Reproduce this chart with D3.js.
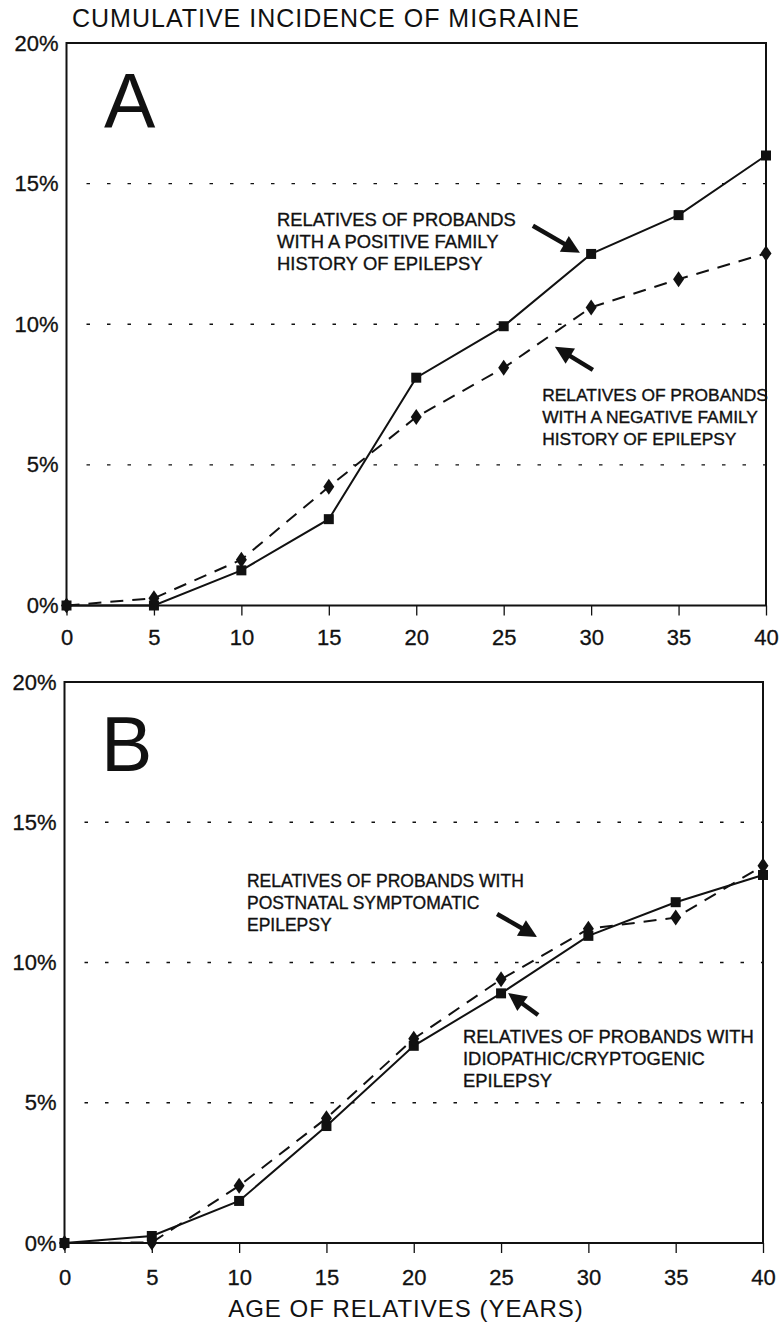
<!DOCTYPE html>
<html>
<head>
<meta charset="utf-8">
<script src="https://cdn.jsdelivr.net/npm/d3@7"></script>
<style>
  html, body { margin: 0; padding: 0; background: #fff; }
  svg { display: block; }
  text { font-family: "Liberation Sans", Arial, Helvetica, sans-serif; fill: #111; }
</style>
</head>
<body>
<svg id="chart" width="783" height="1328"></svg>
<script>
// ---------------- DATA ----------------
const ages = [0, 5, 10, 15, 20, 25, 30, 35, 40];
const xTickValues = [0, 5, 10, 15, 20, 25, 30, 35, 40];
const yTickValues = [0, 5, 10, 15, 20];
const yTickLabels = ["0%", "5%", "10%", "15%", "20%"];
const gridValues = [5, 10, 15];

// Panel A
const aPositive = [0, 0, 1.25, 3.07, 8.1, 9.93, 12.5, 13.88, 16.0];
const aNegative = [0, 0.26, 1.63, 4.22, 6.7, 8.45, 10.6, 11.6, 12.52];
// Panel B
const bIdiopathic = [0, 0.25, 1.5, 4.17, 7.03, 8.9, 10.95, 12.15, 13.12];
const bPostnatal = [0, 0.02, 2.04, 4.45, 7.28, 9.4, 11.2, 11.6, 13.45];

const titleText = "CUMULATIVE INCIDENCE OF MIGRAINE";
const xAxisTitle = "AGE OF RELATIVES (YEARS)";

const aPositiveLabel = ["RELATIVES OF PROBANDS", "WITH A POSITIVE FAMILY", "HISTORY OF EPILEPSY"];
const aNegativeLabel = ["RELATIVES OF PROBANDS", "WITH A NEGATIVE FAMILY", "HISTORY OF EPILEPSY"];
const bPostnatalLabel = ["RELATIVES OF PROBANDS WITH", "POSTNATAL SYMPTOMATIC", "EPILEPSY"];
const bIdiopathicLabel = ["RELATIVES OF PROBANDS WITH", "IDIOPATHIC/CRYPTOGENIC", "EPILEPSY"];

// ---------------- LAYOUT ----------------
const svg = d3.select("#chart");
const INK = "#111";

const panels = [
  {
    letter: "A",
    x0: 66.5, x1: 766, yTop: 43, yBottom: 605.5, tickPad: 14,
    solid: aPositive, dashed: aNegative,
    notes: [
      { lines: aPositiveLabel, at: [12.04, 13.67], size: 18.4 },
      { lines: aNegativeLabel, at: [27.2, 7.45], size: 17.4 }
    ],
    arrows: [
      { from: [26.67, 13.5], to: [29.36, 12.54] },
      { from: [30.1, 8.38], to: [27.93, 9.2] }
    ],
    letterPos: [104, 128]
  },
  {
    letter: "B",
    x0: 64.5, x1: 763, yTop: 682, yBottom: 1243, tickPad: 16,
    solid: bIdiopathic, dashed: bPostnatal,
    notes: [
      { lines: bPostnatalLabel, at: [10.45, 12.87], size: 17.5 },
      { lines: bIdiopathicLabel, at: [22.82, 7.31], size: 18.4 }
    ],
    arrows: [
      { from: [24.77, 11.73], to: [27.06, 10.91] },
      { from: [27.12, 8.13], to: [25.4, 8.91] }
    ],
    letterPos: [101, 771]
  }
];

// Title
svg.append("text")
  .attr("x", 72).attr("y", 27)
  .attr("font-size", 25)
  .attr("letter-spacing", 1)
  .text(titleText);

panels.forEach(p => {
  const x = d3.scaleLinear().domain([0, 40]).range([p.x0, p.x1]);
  const y = d3.scaleLinear().domain([0, 20]).range([p.yBottom, p.yTop]);
  const g = svg.append("g");

  // gridlines
  g.selectAll("line.grid").data(gridValues).join("line")
    .attr("class", "grid")
    .attr("x1", x(0) + 20).attr("x2", x(40))
    .attr("y1", d => y(d)).attr("y2", d => y(d))
    .attr("stroke", INK).attr("stroke-width", 1.4)
    .attr("stroke-dasharray", "3.5,17");

  // frame
  g.append("rect")
    .attr("x", x(0)).attr("y", y(20))
    .attr("width", x(40) - x(0)).attr("height", y(0) - y(20))
    .attr("fill", "none").attr("stroke", INK).attr("stroke-width", 2);

  // x axis ticks & labels
  const xAxis = d3.axisBottom(x).tickValues(xTickValues).tickSize(10).tickPadding(p.tickPad).tickFormat(d3.format("d"));
  const xa = g.append("g").attr("transform", `translate(0,${y(0)})`).call(xAxis);
  xa.select(".domain").remove();
  xa.selectAll(".tick line").attr("stroke", INK).attr("stroke-width", 1.3);
  xa.selectAll(".tick text")
    .attr("font-size", 22).attr("fill", INK)
    .attr("stroke", INK).attr("stroke-width", 0.3)
    .attr("font-family", "Liberation Sans, Arial, sans-serif");

  // y axis labels
  const yAxis = d3.axisLeft(y).tickValues(yTickValues).tickSize(0).tickPadding(8)
    .tickFormat((d, i) => yTickLabels[i]);
  const ya = g.append("g").attr("transform", `translate(${x(0)},0)`).call(yAxis);
  ya.select(".domain").remove();
  ya.selectAll(".tick text")
    .attr("font-size", 22).attr("fill", INK)
    .attr("stroke", INK).attr("stroke-width", 0.3)
    .attr("font-family", "Liberation Sans, Arial, sans-serif");

  // lines
  const line = d3.line().x((d, i) => x(ages[i])).y(d => y(d));
  g.append("path").datum(p.dashed)
    .attr("d", line).attr("fill", "none").attr("stroke", INK)
    .attr("stroke-width", 2).attr("stroke-dasharray", "13,9");
  g.append("path").datum(p.solid)
    .attr("d", line).attr("fill", "none").attr("stroke", INK)
    .attr("stroke-width", 2);

  // markers
  const sq = 10;
  g.selectAll("rect.sq").data(p.solid).join("rect")
    .attr("class", "sq")
    .attr("x", (d, i) => x(ages[i]) - sq / 2).attr("y", d => y(d) - sq / 2)
    .attr("width", sq).attr("height", sq).attr("fill", INK);
  g.selectAll("path.dia").data(p.dashed).join("path")
    .attr("class", "dia")
    .attr("d", (d, i) => {
      const cx = x(ages[i]), cy = y(d);
      return `M${cx},${cy - 8}L${cx + 5.5},${cy}L${cx},${cy + 8}L${cx - 5.5},${cy}Z`;
    })
    .attr("fill", INK);

  // panel letter
  g.append("text")
    .attr("x", p.letterPos[0]).attr("y", p.letterPos[1])
    .attr("font-size", 77)
    .text(p.letter);

  // annotations
  p.notes.forEach(n => {
    const t = g.append("text")
      .attr("x", x(n.at[0])).attr("y", y(n.at[1]))
      .attr("font-size", n.size)
      .attr("stroke", INK).attr("stroke-width", 0.35)
      .attr("dominant-baseline", "middle");
    n.lines.forEach((ln, k) => {
      t.append("tspan").attr("x", x(n.at[0])).attr("dy", k === 0 ? 0 : 22).text(ln);
    });
  });

  // arrows
  p.arrows.forEach(a => {
    const x1 = x(a.from[0]), y1 = y(a.from[1]);
    const x2 = x(a.to[0]), y2 = y(a.to[1]);
    const dx = x2 - x1, dy = y2 - y1, len = Math.hypot(dx, dy);
    const ux = dx / len, uy = dy / len;
    const hl = 18, hw = 9;
    const bx = x2 - ux * hl, by = y2 - uy * hl;
    g.append("line")
      .attr("x1", x1).attr("y1", y1).attr("x2", bx + ux * 2).attr("y2", by + uy * 2)
      .attr("stroke", INK).attr("stroke-width", 4.5);
    g.append("path")
      .attr("d", `M${x2},${y2}L${bx - uy * hw},${by + ux * hw}L${bx + uy * hw},${by - ux * hw}Z`)
      .attr("fill", INK);
  });
});

// x axis title
svg.append("text")
  .attr("x", 406).attr("y", 1317)
  .attr("text-anchor", "middle")
  .attr("font-size", 24)
  .attr("letter-spacing", 1)
  .text(xAxisTitle);
</script>
</body>
</html>
